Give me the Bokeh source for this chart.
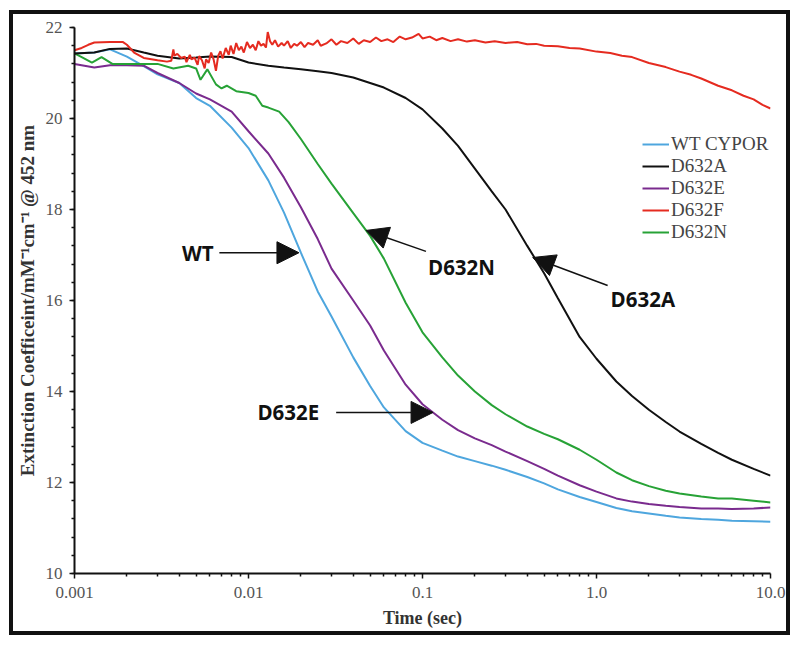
from bokeh.plotting import figure
from bokeh.models import (Range1d, FixedTicker, SingleIntervalTicker, CustomJSTickFormatter,
                          Legend, LegendItem, Arrow, NormalHead, Label)
from bokeh.embed import file_html
from bokeh.resources import INLINE

# ---------------- data ----------------
time_grid = [0.001, 0.0013, 0.0016, 0.002, 0.0025, 0.003, 0.004, 0.005, 0.006, 0.008,
             0.01, 0.013, 0.016, 0.02, 0.025, 0.03, 0.04, 0.05, 0.06, 0.08,
             0.1, 0.13, 0.16, 0.2, 0.25, 0.3, 0.4, 0.5, 0.6, 0.8,
             1.0, 1.3, 1.6, 2.0, 2.5, 3.0, 4.0, 5.0, 6.0, 8.0, 10.0]

wt_cypor = [21.43, 21.45, 21.52, 21.36, 21.15, 20.97, 20.78, 20.45, 20.28, 19.8,
            19.35, 18.64, 17.93, 17.05, 16.2, 15.65, 14.75, 14.12, 13.65, 13.13,
            12.87, 12.7, 12.57, 12.47, 12.37, 12.28, 12.12, 11.98, 11.85, 11.68,
            11.57, 11.44, 11.37, 11.32, 11.27, 11.23, 11.2, 11.18, 11.16, 11.15, 11.14]

d632a = [21.43, 21.45, 21.53, 21.54, 21.45, 21.38, 21.32, 21.34, 21.36, 21.35,
         21.23, 21.16, 21.12, 21.08, 21.04, 21.0, 20.9, 20.78, 20.68, 20.45,
         20.2, 19.78, 19.4, 18.9, 18.4, 18.0, 17.2, 16.6, 16.05, 15.2,
         14.72, 14.22, 13.9, 13.6, 13.33, 13.12, 12.85, 12.65, 12.5, 12.3, 12.15]

d632e = [21.2, 21.12, 21.17, 21.17, 21.16, 21.0, 20.78, 20.55, 20.42, 20.15,
         19.72, 19.23, 18.7, 18.05, 17.35, 16.7, 16.0, 15.45, 14.9, 14.15,
         13.72, 13.38, 13.15, 12.97, 12.82, 12.68, 12.47, 12.3, 12.15, 11.94,
         11.8, 11.65, 11.58, 11.53, 11.49, 11.46, 11.43, 11.43, 11.42, 11.43, 11.45]

d632n_time = [0.001, 0.0011, 0.00126, 0.00143, 0.00165, 0.002, 0.0025, 0.003, 0.0037, 0.0045,
              0.005, 0.0053, 0.0058, 0.0065, 0.007, 0.0075, 0.0085, 0.01, 0.011, 0.012,
              0.013, 0.015, 0.017, 0.02, 0.025, 0.03, 0.04, 0.05, 0.06, 0.08,
              0.1, 0.13, 0.16, 0.2, 0.25, 0.3, 0.4, 0.5, 0.6, 0.8,
              1.0, 1.3, 1.6, 2.0, 2.5, 3.0, 4.0, 5.0, 6.0, 8.0, 10.0]
d632n = [21.43, 21.35, 21.23, 21.35, 21.2, 21.2, 21.2, 21.2, 21.1, 21.16,
         21.1, 20.85, 21.08, 20.75, 20.66, 20.72, 20.6, 20.56, 20.5, 20.28,
         20.24, 20.15, 19.92, 19.55, 19.0, 18.57, 17.92, 17.42, 16.92, 15.95,
         15.3, 14.75, 14.35, 14.0, 13.7, 13.5, 13.23, 13.07, 12.95, 12.72,
         12.5, 12.22, 12.05, 11.92, 11.82, 11.76, 11.69, 11.65, 11.65, 11.6, 11.56]

d632f_time = [0.001, 0.0011, 0.0012, 0.0013, 0.0016, 0.0019, 0.002, 0.0022, 0.0025, 0.003,
              0.0034, 0.0036, 0.0037, 0.00375, 0.0039, 0.0041, 0.0043, 0.0044, 0.0046, 0.0047,
              0.0049, 0.0051, 0.0052, 0.0054, 0.0056, 0.0057, 0.0059, 0.0061, 0.0063, 0.0065,
              0.0067, 0.0069, 0.0071, 0.0074, 0.0077, 0.0079, 0.0082, 0.0085, 0.0088, 0.0091,
              0.0094, 0.0098, 0.0102, 0.0106, 0.011, 0.0114, 0.0118, 0.0122, 0.0126, 0.0129,
              0.0133, 0.0137, 0.0142, 0.0148, 0.0155, 0.016, 0.0168, 0.0175, 0.0183, 0.019,
              0.02, 0.021, 0.022, 0.0235, 0.025, 0.026, 0.028, 0.03, 0.032, 0.034,
              0.037, 0.04, 0.043, 0.046, 0.05, 0.054, 0.058, 0.063, 0.068, 0.074,
              0.08, 0.087, 0.095, 0.1, 0.11, 0.12, 0.13, 0.145, 0.16, 0.18,
              0.2, 0.23, 0.26, 0.3, 0.35, 0.4, 0.45, 0.5, 0.6, 0.7,
              0.8, 1.0, 1.2, 1.4, 1.6, 2.0, 2.5, 3.0, 3.5, 4.0,
              5.0, 6.0, 7.0, 8.0, 9.0, 10.0]
d632f = [21.5, 21.55, 21.62, 21.67, 21.68, 21.68, 21.62, 21.45, 21.33, 21.28,
         21.25, 21.27, 21.52, 21.38, 21.42, 21.33, 21.36, 21.24, 21.4, 21.3,
         21.34, 21.18, 21.37, 21.28, 21.1, 21.3, 21.22, 21.45, 21.3, 21.05,
         21.38, 21.48, 21.32, 21.55, 21.4, 21.6, 21.42, 21.66, 21.5, 21.58,
         21.45, 21.68, 21.55, 21.62, 21.5, 21.7, 21.6, 21.64, 21.56, 21.9,
         21.7, 21.62, 21.72, 21.58, 21.66, 21.6, 21.7, 21.55, 21.64, 21.6,
         21.68, 21.57, 21.66, 21.62, 21.72, 21.6, 21.65, 21.74, 21.62, 21.7,
         21.66, 21.76, 21.64, 21.72, 21.68, 21.78, 21.7, 21.74, 21.68, 21.8,
         21.74, 21.78, 21.86, 21.76, 21.8, 21.72, 21.77, 21.7, 21.74, 21.69,
         21.72, 21.67, 21.7, 21.66, 21.68, 21.63, 21.64, 21.6, 21.59, 21.55,
         21.54, 21.47, 21.44, 21.38, 21.35, 21.22, 21.13, 21.03, 20.96, 20.88,
         20.72, 20.62, 20.5, 20.42, 20.3, 20.22]

series_names = ["WT CYPOR", "D632A", "D632E", "D632F", "D632N"]
series_colors = ["#4ea6de", "#111111", "#7a2b8e", "#e52b20", "#27a236"]

x_ticks = [0.001, 0.01, 0.1, 1.0, 10.0]
x_minor = [m * d for d in [0.001, 0.01, 0.1, 1.0] for m in range(2, 10)]

# annotation callouts: (text, text x, text y, align, arrow start x, y, arrow end x, y)
callouts = [
    ("WT", 0.0063, 17.05, "right", 0.0068, 17.05, 0.0195, 17.05),
    ("D632E", 0.0255, 13.56, "right", 0.0319, 13.54, 0.115, 13.54),
    ("D632N", 0.1075, 16.73, "left", 0.1047, 17.08, 0.0474, 17.54),
    ("D632A", 1.205, 16.04, "left", 1.159, 16.33, 0.43, 16.945),
]

SERIF = "Liberation Serif"
SANS = "Open Sans"

p = figure(x_axis_type="log", output_backend="svg", toolbar_location=None,
           width=781, height=625,
           min_border_left=60, min_border_right=24, min_border_top=13, min_border_bottom=66,
           x_range=Range1d(0.001, 10.0), y_range=Range1d(10, 22),
           background_fill_color="white", border_fill_color="white")
p.styles = {"border": "4px solid #111111", "margin-left": "9px", "margin-top": "10px"}
p.outline_line_color = None
p.grid.visible = False

lines = {}
data_sets = [(time_grid, wt_cypor), (time_grid, d632a), (time_grid, d632e),
             (d632f_time, d632f), (d632n_time, d632n)]
draw_order = [0, 2, 4, 1, 3]
for i in draw_order:
    t, v = data_sets[i]
    lines[i] = p.line(t, v, line_color=series_colors[i], line_width=2)

# axes
xa = p.xaxis[0]
xa.ticker = FixedTicker(ticks=x_ticks, minor_ticks=x_minor)
xa.formatter = CustomJSTickFormatter(code="""
if (tick >= 1) { return tick.toFixed(1); }
return String(parseFloat(tick.toPrecision(3)));
""")
ya = p.yaxis[0]
ya.ticker = SingleIntervalTicker(interval=2, num_minor_ticks=5)

for ax in (xa, ya):
    ax.axis_line_width = 2
    ax.axis_line_color = "#111111"
    ax.major_tick_line_color = "#111111"
    ax.minor_tick_line_color = "#111111"
    ax.major_tick_line_width = 1.5
    ax.minor_tick_line_width = 1.5
    ax.major_tick_in = 0
    ax.major_tick_out = 5
    ax.minor_tick_in = 0
    ax.minor_tick_out = 3
    ax.major_label_text_font = SERIF
    ax.major_label_text_font_size = "17px"
    ax.major_label_text_color = "#555555"
    ax.axis_label_text_font = SERIF
    ax.axis_label_text_font_style = "bold"
    ax.axis_label_text_color = "#333333"

xa.axis_label = "Time (sec)"
xa.axis_label_text_font_size = "18px"
xa.major_label_standoff = 8
xa.axis_label_standoff = 7
ya.axis_label = "Extinction Coefficeint/mM\u207b\u00b9cm\u207b\u00b9 @ 452 nm"
ya.axis_label_text_font_size = "19px"
ya.major_label_standoff = 7
ya.axis_label_standoff = 5

legend = Legend(items=[LegendItem(label=series_names[i], renderers=[lines[i]]) for i in range(5)],
                location=(568, 330), padding=0, margin=0, spacing=0,
                glyph_width=27, glyph_height=22, label_height=22, label_standoff=2,
                label_text_font=SERIF, label_text_font_size="19px", label_text_color="#444444",
                background_fill_alpha=0, border_line_color=None)
p.add_layout(legend)

for text, tx, ty, align, xs, ys, xe, ye in callouts:
    p.add_layout(Arrow(end=NormalHead(size=22, fill_color="#111111", line_color="#111111"),
                       x_start=xs, y_start=ys, x_end=xe, y_end=ye,
                       line_color="#111111", line_width=1.5))
    p.add_layout(Label(x=tx, y=ty, text=text, text_font=SANS, text_font_style="bold",
                       text_font_size="20.5px", text_color="#111111",
                       text_align=align, text_baseline="middle"))

open("out.html", "w").write(file_html(p, INLINE))
